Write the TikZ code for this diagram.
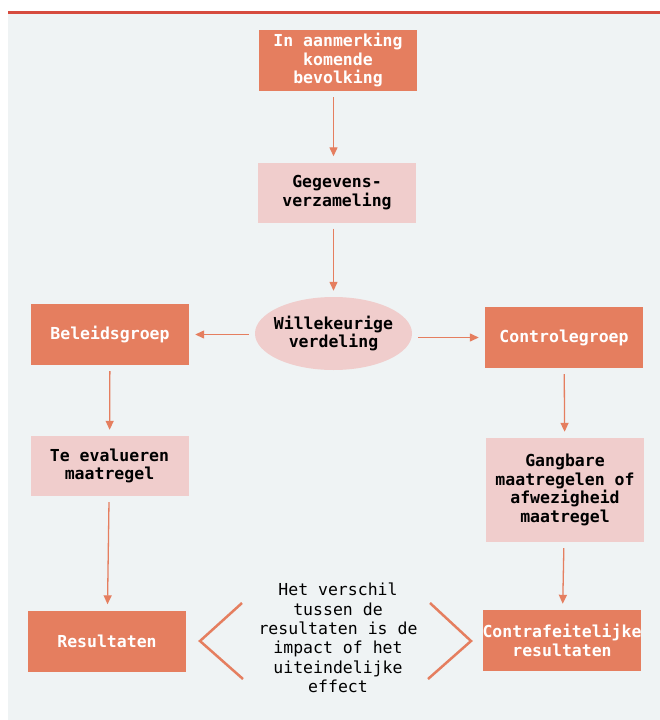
\documentclass[tikz,border=0pt]{standalone}
\usepackage{fontspec}
\setmonofont{DejaVu Sans Mono}
\usetikzlibrary{arrows.meta,shapes.geometric}
\definecolor{oranje}{RGB}{229,126,95}
\definecolor{roze}{RGB}{240,205,204}
\definecolor{achtergrond}{RGB}{239,243,244}
\definecolor{rood}{RGB}{214,75,62}

\begin{document}
\begin{tikzpicture}[
    x=1pt, y=-1pt,
    donker/.style={rectangle, fill=oranje, text=white, minimum width=158pt, minimum height=61pt, inner sep=0pt, align=center},
    licht/.style={rectangle, fill=roze, text=black, minimum width=158pt, minimum height=60pt, inner sep=0pt, align=center},
    pijl/.style={->, draw=oranje, line width=1.3pt, shorten <=6pt, shorten >=6pt},
    haak/.style={draw=oranje, line width=2.5pt},
    >={Triangle[length=9pt, width=8pt]},
    font=\ttfamily\bfseries\fontsize{16.5}{18.5}\selectfont
]
    % 背景与顶部红线
    \useasboundingbox (0,0) rectangle (660,720);
    \fill[achtergrond] (8,14) rectangle (660,720);
    \fill[rood] (8,11) rectangle (660,14);

    % 节点定义 (中间一列)
    \node[donker] (bevolking) at (338,60.5) {In aanmerking\\komende\\bevolking};
    \node[licht] (gegevens) at (337,192.5) {Gegevens-\\verzameling};
    \node[ellipse, fill=roze, minimum width=157pt, minimum height=73pt, inner xsep=-10pt, inner ysep=0pt, align=center] (verdeling) at (333.5,333.5) {Willekeurige\\verdeling};

    % 左列
    \node[donker] (beleid) at (110,334.5) {Beleidsgroep};
    \node[licht] (evalueren) at (109.5,466) {Te evalueren\\maatregel};
    \node[donker] (resultaten) at (107,641) {Resultaten};

    % 右列
    \node[donker] (controle) at (564,337.5) {Controlegroep};
    \node[licht, minimum height=104pt] (gangbaar) at (565,490) {Gangbare\\maatregelen of\\afwezigheid\\maatregel};
    \node[donker] (contra) at (562,640.5) {Contrafeitelijke\\resultaten};

    % 底部说明文字
    \node[align=center, font=\ttfamily\mdseries\fontsize{16.5}{19.3}\selectfont] (verschil) at (338,638) {Het verschil\\tussen de\\resultaten is de\\impact of het\\uiteindelijke\\effect};

    % 1. 中间一列的箭头
    \draw[pijl] (bevolking.south -| verdeling) -- (gegevens.north -| verdeling);
    \draw[pijl] (gegevens.south -| verdeling) -- (verdeling);

    % 2. 随机分配到两组
    \draw[pijl] (verdeling.west |- beleid.east) -- (beleid.east);
    \draw[pijl] (verdeling.east |- controle.west) -- (controle.west);

    % 3. 两侧向下的箭头
    \draw[pijl] (beleid) -- (evalueren);
    \draw[pijl] (evalueren) -- (resultaten);
    \draw[pijl] (controle) -- (gangbaar);
    \draw[pijl] (gangbaar) -- (contra);

    % 4. 说明文字两侧的尖括号
    \draw[haak] (242,603) -- (200,641) -- (243,679);
    \draw[haak] (430,603) -- (471,641) -- (428,679);

\end{tikzpicture}
\end{document}
